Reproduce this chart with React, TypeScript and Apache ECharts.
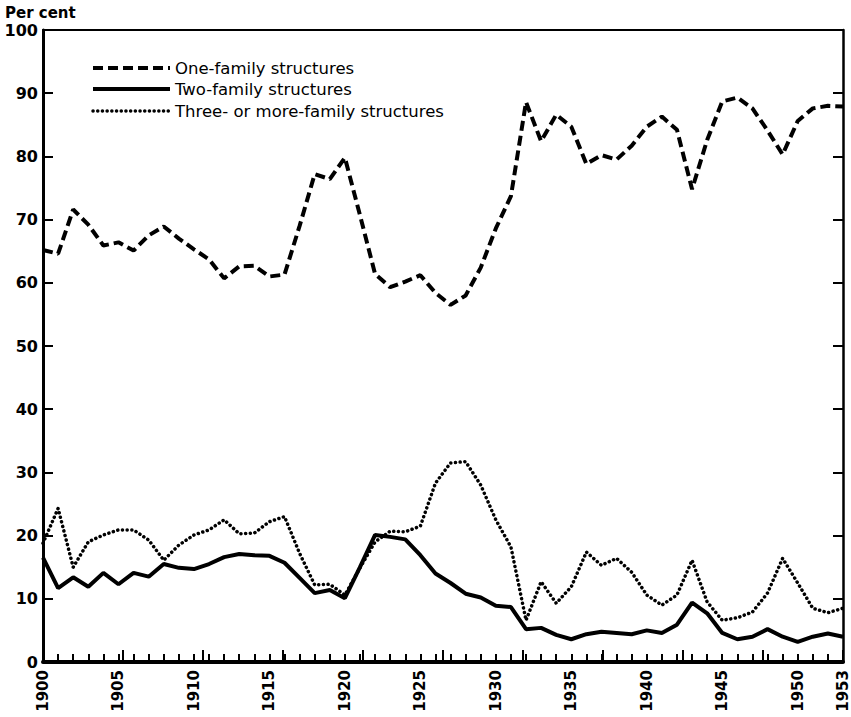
import React, { useEffect, useRef } from "react";
import * as echarts from "echarts";

const years: number[] = [];
for (let y = 1900; y <= 1953; y++) years.push(y);

const oneFamily = [
  65.2, 64.6, 71.6, 69.2, 65.9, 66.4, 65.1, 67.5, 68.9, 67.0,
  65.3, 63.7, 60.7, 62.6, 62.7, 61.0, 61.3, 69.0, 77.2, 76.4,
  79.8, 70.7, 61.4, 59.3, 60.2, 61.2, 58.4, 56.5, 58.0, 62.4,
  68.6, 73.7, 88.6, 82.4, 86.6, 84.7, 78.8, 80.2, 79.5, 81.7,
  84.7, 86.3, 84.2, 74.8, 82.6, 88.7, 89.3, 87.6, 84.1, 80.3,
  85.6, 87.6, 88.0, 87.9,
];

const twoFamily = [
  16.5, 11.7, 13.4, 11.9, 14.1, 12.3, 14.1, 13.5, 15.5, 14.9,
  14.7, 15.5, 16.6, 17.1, 16.9, 16.8, 15.7, 13.3, 10.9, 11.4,
  10.1, 15.0, 20.1, 19.8, 19.4, 16.9, 14.0, 12.5, 10.8, 10.2,
  8.9, 8.7, 5.2, 5.4, 4.3, 3.6, 4.4, 4.8, 4.6, 4.4,
  5.0, 4.6, 5.9, 9.4, 7.7, 4.6, 3.6, 4.0, 5.2, 4.0,
  3.2, 4.0, 4.5, 4.0,
];

const threeFamily = [
  18.8, 24.3, 15.0, 19.0, 20.1, 20.9, 20.9, 19.3, 16.1, 18.5,
  20.1, 20.9, 22.5, 20.3, 20.4, 22.2, 23.0, 17.2, 12.2, 12.3,
  10.6, 14.9, 19.0, 20.7, 20.6, 21.5, 28.3, 31.5, 31.7, 28.0,
  22.5, 18.2, 6.6, 12.7, 9.3, 11.9, 17.4, 15.3, 16.4, 14.2,
  10.6, 9.0, 10.6, 16.1, 9.5, 6.6, 7.0, 7.9, 10.9, 16.4,
  12.5, 8.5, 7.8, 8.5,
];

const seriesNames = [
  "One-family structures",
  "Two-family structures",
  "Three- or more-family structures",
];

const yTicks = [0, 10, 20, 30, 40, 50, 60, 70, 80, 90, 100];

const FONT = "DejaVu Sans";

export default function App() {
  const ref = useRef<HTMLDivElement>(null);
  useEffect(() => {
    if (!ref.current) return;
    const chart = echarts.init(ref.current, null, { renderer: "svg" });
    const pair = (vals: number[]) => years.map((y, i) => [y, vals[i]]);
    const dashStyle = { color: "#000", width: 4, type: [10, 5] as any };
    const solidStyle = { color: "#000", width: 4, type: "solid" as any };
    const dotStyle = { color: "#000", width: 3.5, type: [0.1, 4.6] as any, cap: "round" as any };

    const legendY = [68, 89, 111];
    const styles = [dashStyle, solidStyle, dotStyle];
    const legendGraphics: any[] = [];
    seriesNames.forEach((n, i) => {
      const s: any = styles[i];
      legendGraphics.push({
        type: "line",
        shape: { x1: 93, y1: legendY[i], x2: 170, y2: legendY[i] },
        style: {
          stroke: "#000",
          lineWidth: s.width,
          lineDash: Array.isArray(s.type) ? s.type : null,
          lineCap: s.cap || "butt",
        },
      });
      legendGraphics.push({
        type: "text",
        x: 175,
        y: legendY[i],
        style: {
          text: n,
          fill: "#000",
          font: `500 16.5px "${FONT}"`,
          verticalAlign: "middle",
          align: "left",
        },
      });
    });

    const option: any = {
      animation: false,
      backgroundColor: "#fff",
      grid: { left: 43, right: 8, top: 30, bottom: 55, containLabel: false },
      xAxis: [
        {
          type: "value",
          min: 1900,
          max: 1953,
          interval: 1,
          axisLine: { show: true, lineStyle: { color: "#000", width: 4 } },
          axisTick: { show: true, inside: true, length: 8, lineStyle: { color: "#000", width: 2 } },
          splitLine: { show: false },
          axisLabel: {
            rotate: 90,
            color: "#000",
            fontFamily: FONT,
            fontWeight: "bold",
            fontSize: 15,
            margin: 8,
            formatter: (v: number) => (v % 5 === 0 || v === 1953 ? String(v) : ""),
            showMaxLabel: true,
            showMinLabel: true,
          },
        },
        {
          type: "value",
          min: 1900,
          max: 1950,
          interval: 5,
          position: "bottom",
          axisLine: { show: false },
          axisTick: { show: true, inside: true, length: 12, lineStyle: { color: "#000", width: 2 } },
          axisLabel: { show: false },
          splitLine: { show: false },
        },
        {
          type: "value",
          min: 1900,
          max: 1953,
          position: "top",
          axisLine: { show: true, lineStyle: { color: "#000", width: 2 } },
          axisTick: { show: false },
          axisLabel: { show: false },
          splitLine: { show: false },
        },
      ],
      yAxis: [
        {
          type: "value",
          min: 0,
          max: 100,
          interval: 10,
          axisLine: { show: true, lineStyle: { color: "#000", width: 3 } },
          axisTick: { show: true, inside: true, length: 10, lineStyle: { color: "#000", width: 2 } },
          splitLine: { show: false },
          axisLabel: {
            color: "#000",
            fontFamily: FONT,
            fontWeight: "bold",
            fontSize: 16,
            margin: 5,
            formatter: (v: number) => (yTicks.includes(v) ? String(v) : ""),
          },
        },
        {
          type: "value",
          min: 0,
          max: 100,
          interval: 10,
          position: "right",
          axisLine: { show: true, lineStyle: { color: "#000", width: 2.5 } },
          axisTick: { show: true, inside: true, length: 10, lineStyle: { color: "#000", width: 2 } },
          axisLabel: { show: false },
          splitLine: { show: false },
        },
      ],
      series: [
        {
          name: seriesNames[0],
          type: "line",
          data: pair(oneFamily),
          symbol: "none",
          lineStyle: dashStyle,
          z: 3,
        },
        {
          name: seriesNames[1],
          type: "line",
          data: pair(twoFamily),
          symbol: "none",
          lineStyle: solidStyle,
          z: 3,
        },
        {
          name: seriesNames[2],
          type: "line",
          data: pair(threeFamily),
          symbol: "none",
          lineStyle: dotStyle,
          z: 3,
        },
      ],
      graphic: [
        {
          type: "text",
          x: 5,
          y: 5,
          style: {
            text: "Per cent",
            fill: "#000",
            font: `bold 15px "${FONT}"`,
          },
        },
        ...legendGraphics,
      ],
    };
    chart.setOption(option);
    return () => chart.dispose();
  }, []);
  return <div ref={ref} style={{ width: 851, height: 717, position: "absolute", left: 0, top: 0 }} />;
}
